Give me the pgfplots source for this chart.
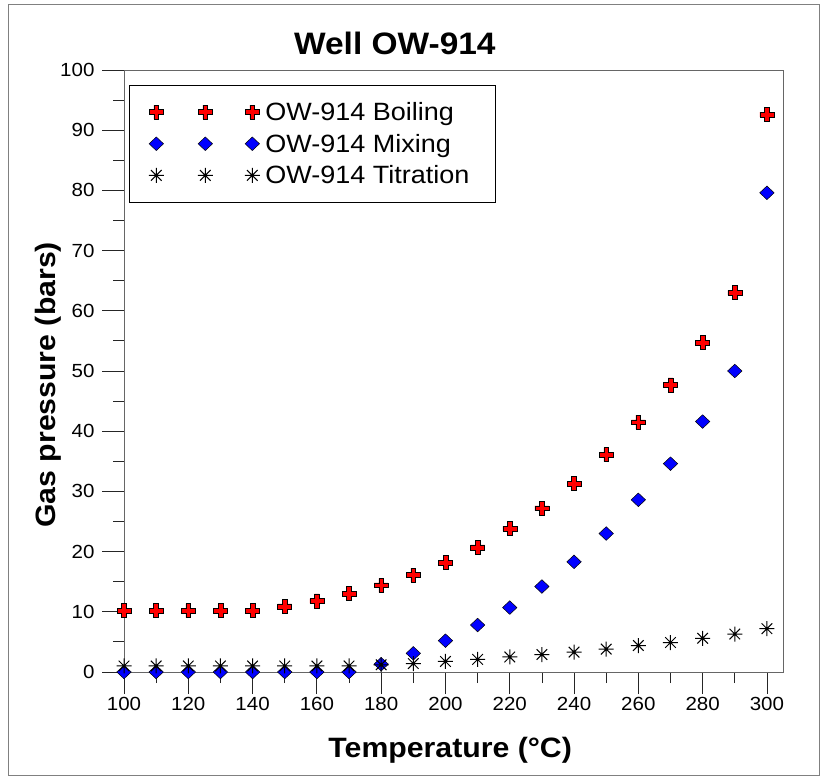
\documentclass[border=0pt]{standalone}
\usepackage{fontspec}
\setmainfont[FakeStretch=1.08]{Liberation Sans}
\usepackage{pgfplots}
\pgfplotsset{compat=1.18}

\pgfdeclareplotmark{fatcross}{%
  \pgfpathmoveto{\pgfqpoint{-2.4pt}{7pt}}%
  \pgfpathlineto{\pgfqpoint{2.4pt}{7pt}}%
  \pgfpathlineto{\pgfqpoint{2.4pt}{2.4pt}}%
  \pgfpathlineto{\pgfqpoint{7pt}{2.4pt}}%
  \pgfpathlineto{\pgfqpoint{7pt}{-2.4pt}}%
  \pgfpathlineto{\pgfqpoint{2.4pt}{-2.4pt}}%
  \pgfpathlineto{\pgfqpoint{2.4pt}{-7pt}}%
  \pgfpathlineto{\pgfqpoint{-2.4pt}{-7pt}}%
  \pgfpathlineto{\pgfqpoint{-2.4pt}{-2.4pt}}%
  \pgfpathlineto{\pgfqpoint{-7pt}{-2.4pt}}%
  \pgfpathlineto{\pgfqpoint{-7pt}{2.4pt}}%
  \pgfpathlineto{\pgfqpoint{-2.4pt}{2.4pt}}%
  \pgfpathclose
  \pgfusepathqfillstroke
}
\pgfdeclareplotmark{fatdiamond}{%
  \pgfpathmoveto{\pgfqpoint{0pt}{6.8pt}}%
  \pgfpathlineto{\pgfqpoint{7.2pt}{0pt}}%
  \pgfpathlineto{\pgfqpoint{0pt}{-6.8pt}}%
  \pgfpathlineto{\pgfqpoint{-7.2pt}{0pt}}%
  \pgfpathclose
  \pgfusepathqfillstroke
}
\pgfdeclareplotmark{eightstar}{%
  \pgfpathmoveto{\pgfqpoint{-7.5pt}{0pt}}\pgfpathlineto{\pgfqpoint{7.5pt}{0pt}}%
  \pgfpathmoveto{\pgfqpoint{0pt}{-7.5pt}}\pgfpathlineto{\pgfqpoint{0pt}{7.5pt}}%
  \pgfpathmoveto{\pgfqpoint{-5.3pt}{-5.3pt}}\pgfpathlineto{\pgfqpoint{5.3pt}{5.3pt}}%
  \pgfpathmoveto{\pgfqpoint{-5.3pt}{5.3pt}}\pgfpathlineto{\pgfqpoint{5.3pt}{-5.3pt}}%
  \pgfusepathqstroke
}

\pgfplotstableread{
T    boil  mix   tit
100  10.2  0.0   1.0
110  10.2  0.0   1.0
120  10.2  0.0   1.0
130  10.2  0.0   1.0
140  10.2  0.0   1.0
150  10.9  0.0   1.0
160  11.8  0.0   1.0
170  13.0  0.0   1.0
180  14.4  1.3   1.2
190  16.1  3.1   1.4
200  18.2  5.2   1.75
210  20.7  7.8   2.1
220  23.8  10.7  2.5
230  27.2  14.2  2.9
240  31.3  18.3  3.3
250  36.1  23.0  3.8
260  41.5  28.6  4.4
270  47.7  34.6  4.9
280  54.7  41.6  5.6
290  63.0  50.0  6.3
300  92.6  79.6  7.2
}\datatable

\begin{document}
\begin{tikzpicture}
\useasboundingbox (0,0) rectangle (827pt,779pt);
\draw[gray, line width=1pt] (8pt,4pt) rectangle (819pt,774pt);
\begin{axis}[
  at={(124pt,107pt)}, anchor=south west,
  scale only axis, width=659pt, height=602pt,
  xmin=100, xmax=305, ymin=0, ymax=100,
  clip=false,
  axis line style={gray!80!black, line width=0.8pt},
  xtick={100,120,...,300},
  minor xtick={110,130,...,290},
  ytick={0,10,...,100},
  minor ytick={5,15,...,95},
  tick align=outside,
  xtick pos=bottom, ytick pos=left,
  major tick length=22pt, minor tick length=11pt,
  tick style={black!85, line width=0.8pt},
  /pgf/number format/assume math mode=true,
  tick label style={font=\fontsize{19}{23}\selectfont},
  xticklabel style={yshift=0pt},
  yticklabel style={xshift=-4pt},
  title={\bfseries Well OW-914},
  title style={font=\fontsize{31}{37}\selectfont, at={(axis description cs:0.411,1)}, anchor=center, yshift=21pt},
  xlabel={\bfseries Temperature (°C)},
  xlabel style={font=\fontsize{28}{33}\selectfont, at={(axis description cs:0.495,-0.1296)}, anchor=center},
  ylabel={\bfseries Gas pressure (bars)},
  ylabel style={font=\fontsize{28}{33}\selectfont, at={(axis description cs:-0.1153,0.477)}, anchor=center},
  legend style={at={(axis description cs:0.0076,0.975)}, anchor=north west,
    draw=black, line width=0.6pt, font=\fontsize{25}{30}\selectfont,
    inner xsep=16pt, inner ysep=15pt, row sep=8pt},
  legend cell align=left,
  legend image code/.code={%
    \path[draw=none, fill=none] (-11pt,-1pt) rectangle (107pt,1pt);
    \draw[#1, mark repeat=1] plot coordinates {(0pt,0pt) (49pt,0pt) (96pt,0pt)};},
]
\addplot[only marks, mark=fatcross, mark options={fill=red, draw=black, line width=0.5pt}] table[x=T, y=boil] {\datatable};
\addlegendentry{OW-914 Boiling}
\addplot[only marks, mark=fatdiamond, mark options={fill=blue, draw=black, line width=0.5pt}] table[x=T, y=mix] {\datatable};
\addlegendentry{OW-914 Mixing}
\addplot[only marks, mark=eightstar, mark options={draw=black, line width=1pt}] table[x=T, y=tit] {\datatable};
\addlegendentry{OW-914 Titration\rule{8pt}{0pt}}
\end{axis}
\end{tikzpicture}
\end{document}
